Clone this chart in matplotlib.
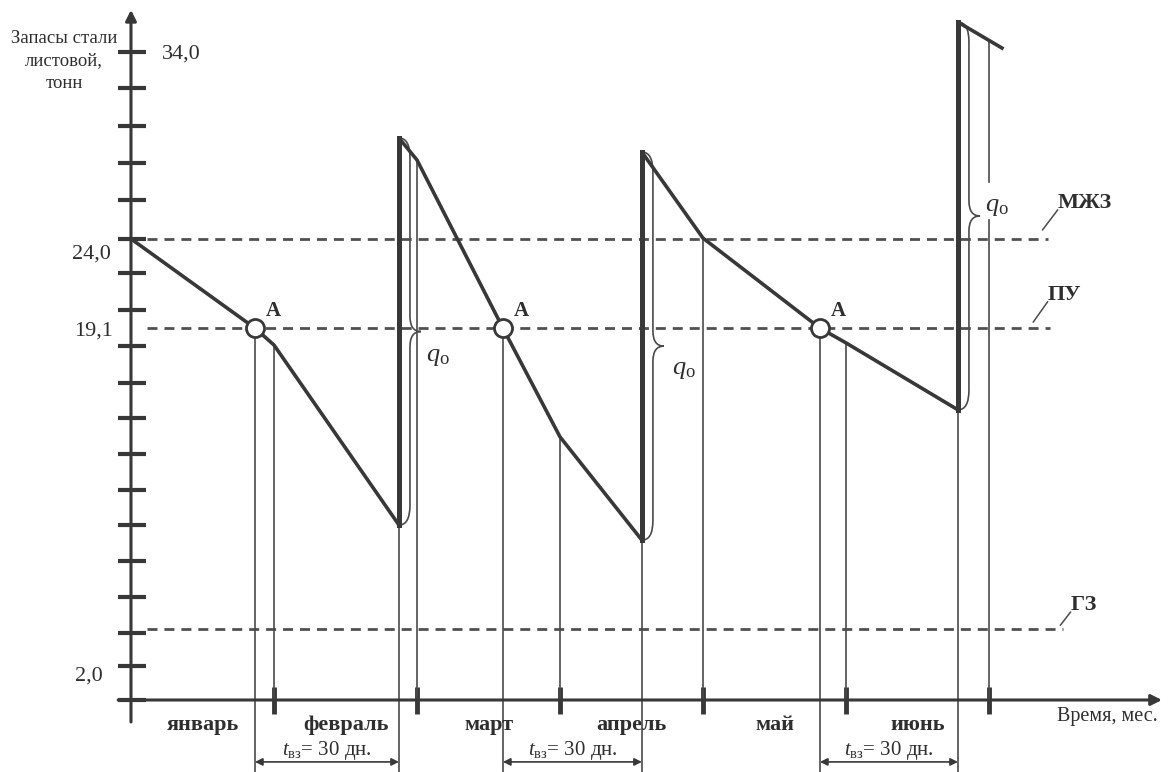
import numpy as np
import matplotlib.pyplot as plt
from matplotlib.path import Path
from matplotlib.patches import PathPatch

plt.rcParams.update({'font.family': 'Liberation Serif',
                     'mathtext.fontset': 'custom',
                     'mathtext.rm': 'Liberation Serif',
                     'mathtext.it': 'Liberation Serif:italic',
                     'mathtext.bf': 'Liberation Serif:bold'})

# x: months from 1 January, y: steps of the (schematic) stock scale
months = ['январь', 'февраль', 'март', 'апрель', 'май', 'июнь']
tick_levels = [0, 0.94, 1.86, 2.86, 3.86, 4.86, 5.83, 6.83, 7.83, 8.81,
               9.83, 10.83, 11.86, 12.81, 13.89, 14.92, 15.94, 17.0, 18.0]
ylab_text = ['34,0', '24,0', '19,1', '2,0']
ylab_level = [18.0, 12.81, 10.33, 0.94]

# stock of sheet steel (consumption + deliveries)
stock_x = [0, 0.867, 1.0, 1.874, 1.874, 2.0, 2.601, 3.0, 3.573, 3.573,
           4.0, 4.818, 5.0, 5.783, 5.783, 6.091]
stock_y = [12.81, 10.33, 9.86, 4.86, 15.61, 15.0, 10.33, 7.31, 4.44, 15.22,
           12.83, 10.33, 9.92, 8.06, 18.83, 18.11]

deliv_x = [1.874, 3.573, 5.783]
deliv_low = [4.86, 4.44, 8.06]
deliv_high = [15.61, 15.22, 18.83]

order_x = [0.867, 2.601, 4.818]   # points A
lead_days = ['30', '30', '30']

level_names = ['МЖЗ', 'ПУ', 'ГЗ']
level_vals = [12.81, 10.33, 1.97]
level_end = [6.41, 6.43, 6.52]

c_main = '#383838'
c_thin = '#4a4a4a'
c_text = '#2e2e2e'


def stock_at(x):
    for i in range(len(stock_x) - 1):
        x0, x1 = stock_x[i], stock_x[i + 1]
        if x0 < x1 and x0 <= x <= x1:
            return stock_y[i] + (stock_y[i + 1] - stock_y[i]) * (x - x0) / (x1 - x0)
    return None


def brace(ax, x0, ytop, ybot, w1=0.077, w2=0.077, r=0.55, r2=0.42):
    xb, xt, ym = x0 + w1, x0 + w1 + w2, (ytop + ybot) / 2
    verts = [(x0, ytop), (xb, ytop), (xb, ytop - r),
             (xb, ym + r2),
             (xb, ym), (xt, ym),
             (xb, ym), (xb, ym - r2),
             (xb, ybot + r),
             (xb, ybot), (x0, ybot)]
    codes = [Path.MOVETO, Path.CURVE3, Path.CURVE3, Path.LINETO,
             Path.CURVE3, Path.CURVE3, Path.CURVE3, Path.CURVE3,
             Path.LINETO, Path.CURVE3, Path.CURVE3]
    ax.add_patch(PathPatch(Path(verts, codes), fill=False, lw=1.2, ec=c_thin))
    return xt, ym


fig = plt.figure(figsize=(11.68, 7.72), dpi=100)
ax = fig.add_axes([0, 0, 1, 1])
ax.set_xlim(-0.916, 7.252)
ax.set_ylim(-2.0, 19.444)
ax.axis('off')

# axes with arrows
ax.annotate('', xy=(0, 19.17), xytext=(0, -0.61),
            arrowprops=dict(arrowstyle='-|>', lw=2.2, color=c_main, mutation_scale=16,
                            shrinkA=0, shrinkB=0))
ax.annotate('', xy=(7.21, 0), xytext=(-0.09, 0),
            arrowprops=dict(arrowstyle='-|>', lw=2.2, color=c_main, mutation_scale=16,
                            shrinkA=0, shrinkB=0))
for lv in tick_levels:
    ax.plot([-0.091, 0.105], [lv, lv], color=c_main, lw=3, solid_capstyle='butt')
for k in range(1, len(months) + 1):
    ax.plot([k, k], [0.36, -0.39], color=c_main, lw=3.5, solid_capstyle='butt')

# y labels
for txt, lv in zip(ylab_text, ylab_level):
    if txt == '34,0':
        ax.text(0.217, lv, txt, ha='left', va='center_baseline', fontsize=16, color=c_text)
    elif txt == '24,0':
        ax.text(-0.14, lv - 0.42, txt, ha='right', va='center', fontsize=16, color=c_text)
    elif txt == '2,0':
        ax.text(-0.2, lv - 0.28, txt, ha='right', va='center', fontsize=16, color=c_text)
    else:
        ax.text(-0.126, lv - 0.08, txt, ha='right', va='center', fontsize=16, color=c_text)
ax.text(-0.469, 17.75, 'Запасы стали\nлистовой,\nтонн', ha='center', va='center',
        fontsize=13.5, linespacing=1.45, color=c_text)

# x labels
for k, m in enumerate(months):
    ax.text(k + 0.5, -0.69, m, ha='center', va='center', fontsize=16,
            fontweight='bold', color=c_text)
ax.text(6.476, -0.47, 'Время, мес.', ha='left', va='center', fontsize=14.5, color=c_text)

# level lines with leaders: (leader start dx, leader start dy, label dx, label dy)
lead = [(-0.035, 0.25, 0.07, 0.8), (-0.12, 0.17, -0.02, 0.73), (-0.02, 0.11, 0.05, 0.47)]
for name, lv, xe, (lx, ly, tx, ty) in zip(level_names, level_vals, level_end, lead):
    ax.plot([0.112, xe], [lv, lv], color='#505050', lw=2, ls=(0, (3.6, 2.5)))
    ax.plot([xe + lx, xe + tx], [lv + ly, lv + ty], color=c_thin, lw=1.1)
    ax.text(xe + tx, lv + ty + 0.2, name, ha='left', va='center', fontsize=16,
            fontweight='bold', color=c_text)

# month boundary verticals from the stock line down to the axis
for k in range(1, len(months) + 1):
    ytop = stock_at(k)
    if k == 6:
        ax.plot([k, k], [ytop, 14.39], color=c_thin, lw=1.2)
        ax.plot([k, k], [13.33, 0], color=c_thin, lw=1.2)
    else:
        ax.plot([k, k], [ytop, 0], color=c_thin, lw=1.2)

# order points, delivery verticals, lead-time arrows
pu = level_vals[1]
for xa, xd, lo, d in zip(order_x, deliv_x, deliv_low, lead_days):
    ax.plot([xa, xa], [pu, -2], color=c_thin, lw=1.2)
    ax.plot([xd, xd], [lo, -2], color=c_thin, lw=1.2)
    ax.annotate('', xy=(xd, -1.72), xytext=(xa, -1.72),
                arrowprops=dict(arrowstyle='<|-|>', lw=1.2, color=c_main, mutation_scale=11,
                                shrinkA=0, shrinkB=0))
    ax.text((xa + xd) / 2, -1.39, r'$t_{\mathrm{вз}}$= ' + d + ' дн.', ha='center',
            va='center', fontsize=15, color=c_text)

# stock line
ax.plot(stock_x, stock_y, color=c_main, lw=2.6, solid_joinstyle='round', zorder=4)
for xd, lo, hi in zip(deliv_x, deliv_low, deliv_high):
    ax.plot([xd, xd], [lo, hi], color=c_main, lw=3.6, zorder=5)

# braces for order quantity q_o
q_off = [(0.12, -0.72), (0.14, -0.67), (0.12, 0.25)]
for xd, lo, hi, off in zip(deliv_x, deliv_low, deliv_high, q_off):
    xt, ym = brace(ax, xd, hi, lo)
    ax.text(xt + off[0], ym + off[1], r'$q_{\mathrm{o}}$', ha='center', va='center',
            fontsize=19, color=c_text)

ax.plot(order_x, [pu] * len(order_x), 'o', ms=13, mfc='white', mec=c_main, mew=2, zorder=6)
for xa in order_x:
    ax.text(xa + 0.13, pu + 0.47, 'A', ha='center', va='center', fontsize=15,
            fontweight='bold', color=c_text)

fig.savefig('out.png', dpi=100, facecolor='white')
